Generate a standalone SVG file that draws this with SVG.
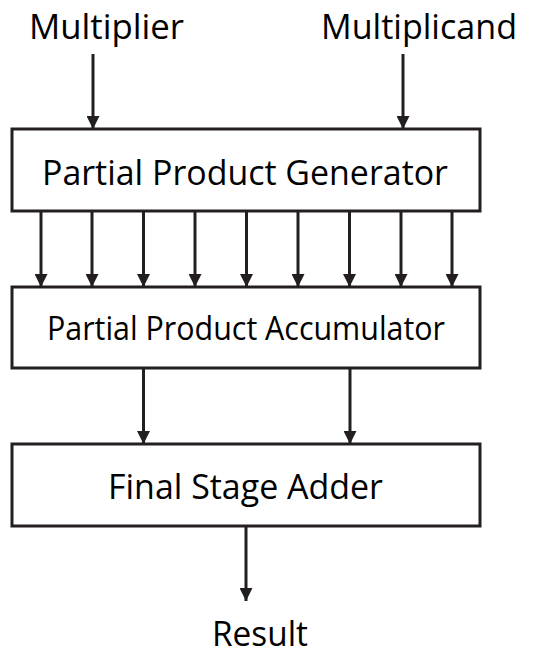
<svg xmlns="http://www.w3.org/2000/svg" width="557" height="655" viewBox="0 0 557 655">
  <style>
    .box { fill: #ffffff; stroke: #231f20; stroke-width: 3; }
    .wire { stroke: #231f20; stroke-width: 3; fill: none; marker-end: url(#head); }
    .lbl { font-family: "Open Sans", "Liberation Sans", sans-serif; fill: #000000; }
    .big { font-size: 35px; }
    .mid { font-size: 32px; }
  </style>
  <defs>
    <marker id="head" viewBox="0 0 13 13" refX="13" refY="6.5" markerWidth="13" markerHeight="13" markerUnits="userSpaceOnUse" orient="auto">
      <path d="M0,0 L13,6.5 L0,13 Z" fill="#231f20"/>
    </marker>
  </defs>
  <rect width="557" height="655" fill="#ffffff"/>

  <!-- input / output labels -->
  <g id="in-multiplier">
    <text class="lbl big" x="29" y="39" textLength="155" lengthAdjust="spacingAndGlyphs">Multiplier</text>
  </g>
  <g id="in-multiplicand">
    <text class="lbl big" x="321" y="39" textLength="196" lengthAdjust="spacingAndGlyphs">Multiplicand</text>
  </g>
  <g id="out-result">
    <text class="lbl big" x="212" y="646" textLength="96" lengthAdjust="spacingAndGlyphs">Result</text>
  </g>

  <!-- processing blocks -->
  <g id="ppg">
    <rect class="box" x="12" y="129" width="468" height="82"/>
    <text class="lbl big" x="42" y="185" textLength="406" lengthAdjust="spacingAndGlyphs">Partial Product Generator</text>
  </g>
  <g id="ppa">
    <rect class="box" x="12" y="287" width="468" height="81"/>
    <text class="lbl mid" x="47" y="340" textLength="398" lengthAdjust="spacingAndGlyphs">Partial Product Accumulator</text>
  </g>
  <g id="fsa">
    <rect class="box" x="12" y="444" width="468" height="82"/>
    <text class="lbl big" x="108" y="499" textLength="275" lengthAdjust="spacingAndGlyphs">Final Stage Adder</text>
  </g>

  <!-- connectors -->
  <g id="connectors">
    <line class="wire" x1="93" y1="54" x2="93" y2="129"/>
    <line class="wire" x1="403" y1="54" x2="403" y2="129"/>

    <line class="wire" x1="41" y1="211" x2="41" y2="287"/>
    <line class="wire" x1="92" y1="211" x2="92" y2="287"/>
    <line class="wire" x1="143.5" y1="211" x2="143.5" y2="287"/>
    <line class="wire" x1="195" y1="211" x2="195" y2="287"/>
    <line class="wire" x1="246.5" y1="211" x2="246.5" y2="287"/>
    <line class="wire" x1="298" y1="211" x2="298" y2="287"/>
    <line class="wire" x1="349.5" y1="211" x2="349.5" y2="287"/>
    <line class="wire" x1="401" y1="211" x2="401" y2="287"/>
    <line class="wire" x1="452" y1="211" x2="452" y2="287"/>

    <line class="wire" x1="143.5" y1="368" x2="143.5" y2="444"/>
    <line class="wire" x1="350" y1="368" x2="350" y2="444"/>

    <line class="wire" x1="246" y1="526" x2="246" y2="601"/>
  </g>
</svg>
